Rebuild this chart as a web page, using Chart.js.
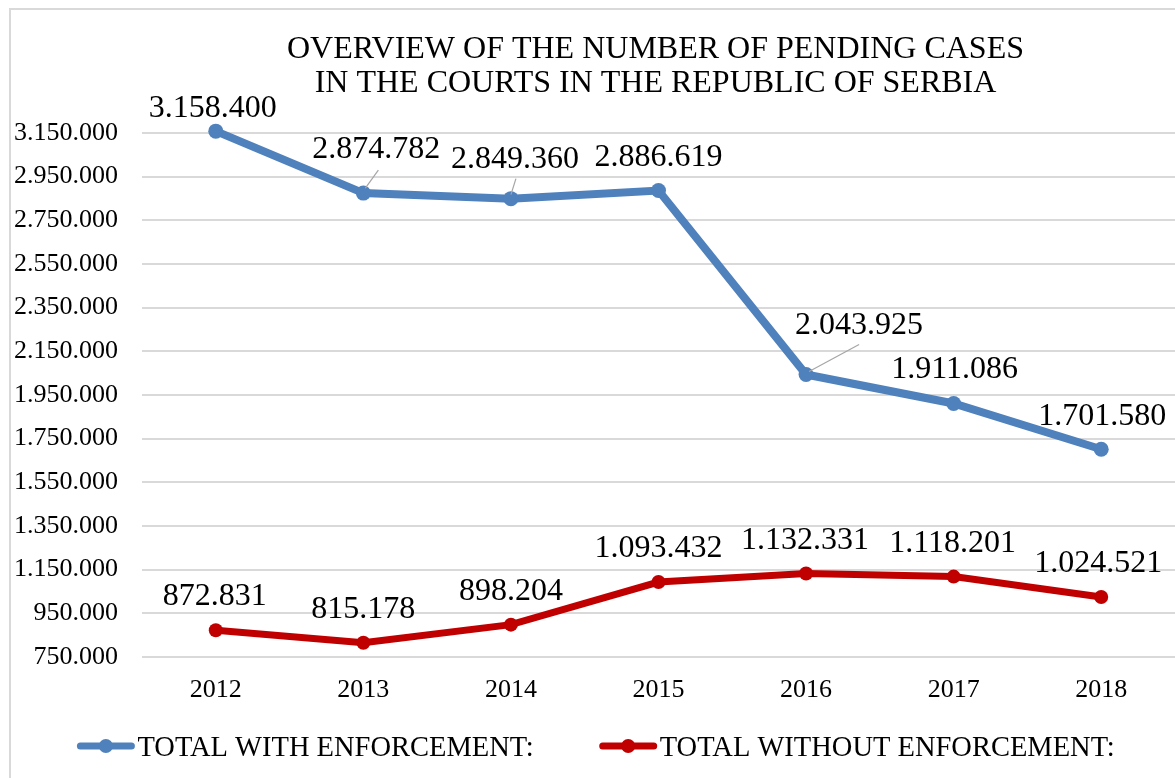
<!DOCTYPE html>
<html>
<head>
<meta charset="utf-8">
<script src="https://cdn.jsdelivr.net/npm/chart.js@4"></script>
<style>
  html, body { margin: 0; padding: 0; background: #fff; overflow: hidden; }
  #wrap { position: relative; width: 1175px; height: 778px; }
  #frame { position: absolute; left: 9px; top: 8px; width: 1300px; height: 900px;
           border-left: 2px solid #d9d9d9; border-top: 2px solid #d9d9d9; pointer-events: none; }
</style>
</head>
<body>
<div id="wrap">
  <canvas id="line" width="1175" height="778"></canvas>
  <div id="frame"></div>
</div>
<script>
const years = ["2012", "2013", "2014", "2015", "2016", "2017", "2018"];
const withEnforcement = [3158400, 2874782, 2849360, 2886619, 2043925, 1911086, 1701580];
const withoutEnforcement = [872831, 815178, 898204, 1093432, 1132331, 1118201, 1024521];
const seriesNames = ["TOTAL WITH ENFORCEMENT:", "TOTAL WITHOUT ENFORCEMENT:"];
const titleLines = ["OVERVIEW OF THE NUMBER OF PENDING CASES", "IN THE COURTS IN THE REPUBLIC OF SERBIA"];
const yMin = 750000, yMax = 3150000, yStep = 200000;

const SERIF = "'Liberation Serif', 'Times New Roman', Times, serif";

// label placement (dx, baseline dy) relative to each point, and leader lines
const labelPos = [
  [[-3, -14], [13, -35], [4, -31], [0, -25], [53, -40], [1, -25], [1, -24]],
  [[-1, -25], [0, -25], [0, -25], [0, -25], [-1, -25], [-1, -25], [-3, -25]]
];
const leaders = [
  [null, [2, -5, 15, -23], [0, -4, 5, -20], null, [3, -3, 53, -30], null, null],
  [null, null, null, null, null, null, null]
];

function fmt(v) {
  return String(v).replace(/\B(?=(\d{3})+(?!\d))/g, ".");
}

const decor = {
  id: "decor",
  afterDatasetsDraw(chart) {
    const {ctx} = chart;
    ctx.save();
    // data labels
    ctx.font = "32px " + SERIF;
    ctx.textAlign = "center";
    ctx.textBaseline = "alphabetic";
    chart.data.datasets.forEach((ds, di) => {
      const meta = chart.getDatasetMeta(di);
      meta.data.forEach((pt, i) => {
        const ld = leaders[di][i];
        if (ld) {
          ctx.strokeStyle = "#a6a6a6";
          ctx.lineWidth = 1.2;
          ctx.beginPath();
          ctx.moveTo(pt.x + ld[0], pt.y + ld[1]);
          ctx.lineTo(pt.x + ld[2], pt.y + ld[3]);
          ctx.stroke();
        }
        const p = labelPos[di][i];
        ctx.fillStyle = "#000";
        ctx.fillText(fmt(ds.data[i]), pt.x + p[0], pt.y + p[1]);
      });
    });
    ctx.restore();
  },
  afterDraw(chart) {
    const {ctx, chartArea} = chart;
    ctx.save();
    // title
    ctx.font = "32px " + SERIF;
    ctx.fillStyle = "#000";
    ctx.textAlign = "center";
    ctx.textBaseline = "alphabetic";
    const cx = (chartArea.left + chartArea.right) / 2 - 3;
    ctx.fillText(titleLines[0], cx, 58);
    ctx.fillText(titleLines[1], cx, 92);

    // legend
    ctx.font = "28.5px " + SERIF;
    ctx.textAlign = "left";
    const lineW = 57, gap = 3, between = 66, ly = 746;
    const items = chart.data.datasets.map(ds => ({
      text: ds.label, color: ds.borderColor, w: lineW + gap + ctx.measureText(ds.label).width
    }));
    const total = items.reduce((s, it) => s + it.w, 0) + between * (items.length - 1);
    let x = 596 - total / 2;
    items.forEach(it => {
      ctx.strokeStyle = it.color;
      ctx.lineWidth = 7;
      ctx.lineCap = "round";
      ctx.beginPath();
      ctx.moveTo(x + 3, ly);
      ctx.lineTo(x + lineW - 3, ly);
      ctx.stroke();
      ctx.fillStyle = it.color;
      ctx.beginPath();
      ctx.arc(x + lineW / 2, ly, 7, 0, Math.PI * 2);
      ctx.fill();
      ctx.fillStyle = "#000";
      ctx.fillText(it.text, x + lineW + gap, ly + 10);
      x += it.w + between;
    });
    ctx.restore();
  }
};

const ctxLine = document.getElementById("line").getContext("2d");

new Chart(ctxLine, {
  type: "line",
  data: {
    labels: years,
    datasets: [
      {
        label: seriesNames[0],
        data: withEnforcement,
        borderColor: "#4f81bd",
        backgroundColor: "#4f81bd",
        pointBackgroundColor: "#4f81bd",
        borderWidth: 8,
        pointRadius: 7.5,
        pointBorderWidth: 0,
        tension: 0,
        clip: false,
      },
      {
        label: seriesNames[1],
        data: withoutEnforcement,
        borderColor: "#c00000",
        backgroundColor: "#c00000",
        pointBackgroundColor: "#c00000",
        borderWidth: 7,
        pointRadius: 7,
        pointBorderWidth: 0,
        tension: 0,
        clip: false,
      },
    ],
  },
  plugins: [decor],
  options: {
    responsive: false,
    animation: false,
    layout: {
      autoPadding: false,
      padding: { top: 133, left: 0, right: 0, bottom: 0 },
    },
    plugins: {
      legend: { display: false },
      title: { display: false },
      tooltip: { enabled: false },
    },
    scales: {
      x: {
        offset: true,
        grid: { display: false, drawTicks: false },
        border: { display: false },
        ticks: {
          color: "#000",
          padding: 18,
          font: { size: 26, family: SERIF },
          maxRotation: 0,
        },
        afterFit(scale) {
          scale.height = 121;
          scale.paddingLeft = 0;
          scale.paddingRight = 0;
        },
      },
      y: {
        min: yMin,
        max: yMax,
        grid: { color: "#d9d9d9", lineWidth: 2, drawTicks: false },
        border: { display: false },
        ticks: {
          stepSize: yStep,
          color: "#000",
          padding: 24,
          font: { size: 26, family: SERIF },
          callback: (v) => fmt(v),
        },
        afterFit(scale) { scale.width = 142; },
      },
    },
  },
});
</script>
</body>
</html>
